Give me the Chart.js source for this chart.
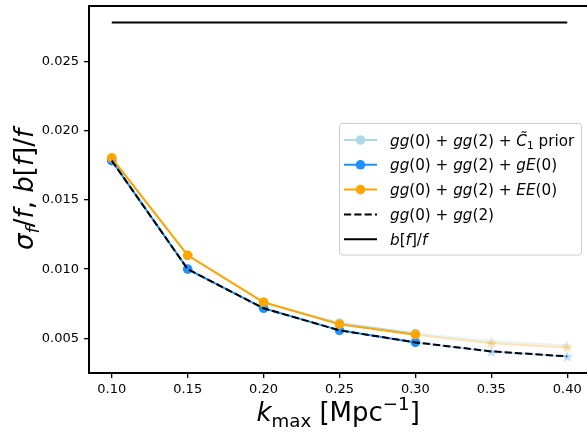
<!DOCTYPE html>
<html>
<head>
<meta charset="utf-8">
<script src="https://cdn.jsdelivr.net/npm/chart.js@4.4.1/dist/chart.umd.min.js"></script>
<style>
  html, body { margin: 0; padding: 0; background: #fff; overflow: hidden; }
  #wrap { width: 587px; height: 432px; overflow: hidden; }
</style>
</head>
<body>
<div id="wrap"><canvas id="c" width="596" height="432"></canvas></div>
<script>
// data
const kmax = [0.10, 0.15, 0.20, 0.25, 0.30, 0.35, 0.40];
const c1Prior = [0.0180, 0.0110, 0.0076, 0.0061, 0.00535, 0.0048, 0.0045];
const ggGE = [0.01783, 0.0100, 0.00717, 0.00558, 0.00471, 0.00406, 0.0037];
const ggEE = [0.01804, 0.0110, 0.00761, 0.00601, 0.00527, 0.00464, 0.00435];
const ggOnly = [0.01783, 0.0100, 0.00717, 0.00558, 0.00471, 0.00406, 0.0037];
const biasOverF = 0.0278;
const xTicks = [0.10, 0.15, 0.20, 0.25, 0.30, 0.35, 0.40];
const yTicks = [0.005, 0.010, 0.015, 0.020, 0.025];
const nSolid = 5; // points up to kmax=0.30 are drawn solid, the rest faded

const LIGHTBLUE = '#add8e6', DODGER = '#1e90ff', ORANGE = '#ffa500';
const FAINT = 0.3;

function rgba(hex, a){
  const n = parseInt(hex.slice(1), 16);
  return `rgba(${n>>16},${(n>>8)&255},${n&255},${a})`;
}
function starImg(color){
  const s = 13, c = document.createElement('canvas');
  c.width = s; c.height = s;
  const g = c.getContext('2d');
  g.beginPath();
  for (let i = 0; i < 10; i++){
    const r = i % 2 ? 2.6 : 6.2;
    const a = -Math.PI/2 + i*Math.PI/5;
    g.lineTo(s/2 + r*Math.cos(a), s/2 + 0.5 + r*Math.sin(a));
  }
  g.closePath(); g.fillStyle = color; g.fill();
  return c;
}
const pts = (ys, from, to) => kmax.slice(from, to).map((x, i) => ({ x, y: ys[from + i] }));

function solidSet(ys, color, order){
  return { data: pts(ys, 0, nSolid), borderColor: color, backgroundColor: color,
    borderWidth: 2, pointRadius: 4.8, pointBorderWidth: 0, pointBackgroundColor: color,
    tension: 0, order };
}
function faintSet(ys, color, order){
  const fc = rgba(color, FAINT);
  const star = starImg(fc);
  const d = pts(ys, nSolid - 1, kmax.length);
  return { data: d, borderColor: fc, borderWidth: 2,
    pointStyle: d.map((p, i) => i === 0 ? 'circle' : star),
    pointRadius: d.map((p, i) => i === 0 ? 0 : 6), pointBorderWidth: 0,
    pointBackgroundColor: fc, tension: 0, order };
}

const datasets = [
  solidSet(c1Prior, LIGHTBLUE, 10), faintSet(c1Prior, LIGHTBLUE, 9),
  solidSet(ggGE, DODGER, 8), faintSet(ggGE, DODGER, 7),
  solidSet(ggEE, ORANGE, 6), faintSet(ggEE, ORANGE, 5),
  { data: pts(ggOnly, 0, kmax.length), borderColor: '#000', borderWidth: 2,
    borderDash: [7.2, 3.1], pointRadius: 0, tension: 0, order: 2 },
  { data: [{ x: kmax[0], y: biasOverF }, { x: kmax[kmax.length-1], y: biasOverF }],
    borderColor: '#000', borderWidth: 2, pointRadius: 0, order: 1 }
];

// mathtext-like text pieces: [text, style]; i = italic, n = upright, sub/sup
function fontFor(s, size){
  const small = s.startsWith('sub') || s.startsWith('sup');
  const ital = s === 'i' || s === 'subi' || s === 'supi';
  return `${ital ? 'italic ' : ''}${small ? size*0.7 : size}px "DejaVu Sans"`;
}
function richWidth(ctx, parts, size){
  let w = 0;
  for (const [t, s] of parts){ ctx.font = fontFor(s, size); w += ctx.measureText(t).width; }
  return w;
}
function drawRich(ctx, parts, x, y, size){
  ctx.textBaseline = 'alphabetic'; ctx.textAlign = 'left'; ctx.fillStyle = '#000';
  for (const [t, s] of parts){
    ctx.font = fontFor(s, size);
    let dy = 0;
    if (s.startsWith('sub')) dy = size*0.22;
    if (s.startsWith('sup')) dy = -size*0.42;
    ctx.fillText(t, x, y + dy);
    x += ctx.measureText(t).width;
  }
}
const gg02 = [['gg','i'],['(0)','n'],[' + ','n'],['gg','i'],['(2)','n']];
const legendRows = [
  { color: LIGHTBLUE, marker: true, text: [...gg02, [' + ','n'], ['C\u0303','i'], ['1','subn'], [' prior','n']] },
  { color: DODGER, marker: true, text: [...gg02, [' + ','n'], ['gE','i'], ['(0)','n']] },
  { color: ORANGE, marker: true, text: [...gg02, [' + ','n'], ['EE','i'], ['(0)','n']] },
  { color: '#000', dash: [7.2, 3.1], text: gg02 },
  { color: '#000', text: [['b','i'],['[','n'],['f','i'],[']/','n'],['f','i']] }
];
const xTitle = [['k','i'],['max','subn'],[' [Mpc','n'],['\u22121','supn'],[']','n']];
const yTitle = [['\u03c3','i'],['f','subi'],['/','n'],['f','i'],[', ','n'],['b','i'],['[','n'],['f','i'],[']/','n'],['f','i']];

const decorPlugin = {
  id: 'decor',
  afterDraw(chart){
    const ctx = chart.ctx, a = chart.chartArea;
    ctx.save();
    // spines
    ctx.strokeStyle = '#000'; ctx.lineWidth = 2;
    ctx.strokeRect(a.left, a.top, a.right - a.left, a.bottom - a.top);
    // axis titles
    const xs = 26, xw = richWidth(ctx, xTitle, xs);
    drawRich(ctx, xTitle, 256.5 + 0 * xw, 421, xs);
    const ys = 26, yw = richWidth(ctx, yTitle, ys);
    ctx.save();
    ctx.translate(33, (a.top + a.bottom)/2);
    ctx.rotate(-Math.PI/2);
    drawRich(ctx, yTitle, -yw/2, 0, ys);
    ctx.restore();
    // legend
    const bx = 339.5, by = 123.5, bw = 242, bh = 131.5;
    ctx.beginPath();
    ctx.roundRect(bx, by, bw, bh, 3);
    ctx.fillStyle = 'rgba(255,255,255,0.8)'; ctx.fill();
    ctx.strokeStyle = '#cccccc'; ctx.lineWidth = 1; ctx.stroke();
    legendRows.forEach((r, i) => {
      const cy = 140 + i*24.8;
      ctx.beginPath();
      ctx.setLineDash(r.dash || []);
      ctx.strokeStyle = r.color; ctx.lineWidth = 2;
      ctx.moveTo(344, cy); ctx.lineTo(377, cy); ctx.stroke();
      ctx.setLineDash([]);
      if (r.marker){
        ctx.beginPath(); ctx.arc(360.5, cy, 4.8, 0, Math.PI*2);
        ctx.fillStyle = r.color; ctx.fill();
      }
      drawRich(ctx, r.text, 390, cy + 5.5, 15.2);
    });
    ctx.restore();
  }
};

const tickFont = { family: 'DejaVu Sans', size: 13 };
const noPad = s => { s.paddingTop = 0; s.paddingBottom = 0; s.paddingLeft = 0; s.paddingRight = 0; };
new Chart(document.getElementById('c'), {
  type: 'line',
  data: { datasets },
  options: {
    responsive: false,
    animation: false,
    layout: { padding: { top: 5, right: 5.5, left: 0, bottom: 0 } },
    plugins: { legend: { display: false }, tooltip: { enabled: false } },
    scales: {
      x: {
        type: 'linear', min: 0.085, max: 0.415,
        afterBuildTicks: s => { s.ticks = xTicks.map(v => ({ value: v })); },
        afterFit: s => { s.height = 59; noPad(s); },
        grid: { drawOnChartArea: false, drawTicks: true, tickLength: 5, color: '#000', lineWidth: 1.3 },
        border: { display: false },
        ticks: { color: '#000', font: tickFont, padding: 4, maxRotation: 0,
          callback: v => v.toFixed(2) }
      },
      y: {
        type: 'linear', min: 0.0025, max: 0.0290,
        afterBuildTicks: s => { s.ticks = yTicks.map(v => ({ value: v })); },
        afterFit: s => { s.width = 89; noPad(s); },
        grid: { drawOnChartArea: false, drawTicks: true, tickLength: 5, color: '#000', lineWidth: 1.3 },
        border: { display: false },
        ticks: { color: '#000', font: tickFont, padding: 5, callback: v => v.toFixed(3) }
      }
    }
  },
  plugins: [decorPlugin]
});
</script>
</body>
</html>
